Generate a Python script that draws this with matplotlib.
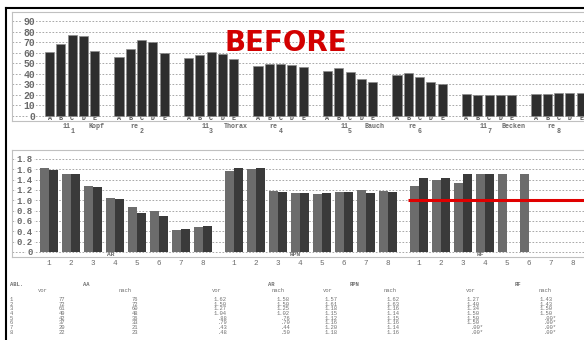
import numpy as np
import matplotlib.pyplot as plt
from matplotlib.transforms import blended_transform_factory
from matplotlib.lines import Line2D

W, H = 584, 340  # output size in px

# --- top chart: 8 regions, bars A-E ---
regions = ['1', '2', '3', '4', '5', '6', '7', '8']
bar_letters = ['A', 'B', 'C', 'D', 'E']
region_names = ['Kopf', 'Thorax', 'Bauch', 'Becken']
top_A = [61, 56, 55, 47, 43, 39, 21, 21]
top_B = [68, 63, 58, 49, 45, 41, 20, 21]
top_C = [77, 72, 61, 49, 42, 37, 20, 22]
top_D = [76, 70, 59, 48, 35, 32, 20, 22]
top_E = [62, 60, 54, 46, 32, 30, 20, 22]
top_ticks = [0, 10, 20, 30, 40, 50, 60, 70, 80, 90]

# --- bottom chart / table ---
abl = [1, 2, 3, 4, 5, 6, 7, 8]
aa_vor = [77, 72, 61, 49, 42, 37, 20, 22]
aa_nach = [76, 72, 60, 48, 36, 33, 21, 23]
ar_vor = [1.62, 1.50, 1.27, 1.04, 0.88, 0.79, 0.43, 0.48]
ar_nach = [1.58, 1.50, 1.25, 1.02, 0.76, 0.70, 0.44, 0.50]
rpn_vor = [1.57, 1.61, 1.18, 1.15, 1.12, 1.16, 1.20, 1.18]
rpn_nach = [1.62, 1.63, 1.16, 1.14, 1.15, 1.16, 1.14, 1.16]
rf_vor = [1.27, 1.40, 1.34, 1.50, 1.50, 1.50, 0.0, 0.0]
rf_nach = [1.43, 1.43, 1.50, 1.50, 0.0, 0.0, 0.0, 0.0]
groups = ['AR', 'RPN', 'RF']
bot_ticks = [0, 0.2, 0.4, 0.6, 0.8, 1.0, 1.2, 1.4, 1.6, 1.8]
bot_ticklabels = ['0', '0.2', '0.4', '0.6', '0.8', '1.0', '1.2', '1.4', '1.6', '1.8']
marker_level = 1.0

gray_txt = '#6a6a6a'
mono = 'Liberation Mono'


def fy(y):
    return 1 - y / H


fig = plt.figure(figsize=(W / 100, H / 100), dpi=100)

# ---------------- top chart ----------------
ax1 = fig.add_axes([12 / W, fy(121), 572 / W, 109 / H])
step1 = 6.15
for k, vals in enumerate([top_A, top_B, top_C, top_D, top_E]):
    x = np.arange(len(regions)) * step1 + k
    ax1.bar(x, vals, width=0.8, color='#2e2e2e', edgecolor='#8c8c8c', linewidth=0.5)
ax1.set_xlim(-3.32, -3.32 + 572 / 11.3)
ax1.set_ylim(-4.74, 98.5)
ax1.set_yticks(top_ticks)
ax1.set_yticklabels([str(t) for t in top_ticks], family=mono, fontweight='bold',
                    fontsize=7, color=gray_txt)
xt = (np.arange(len(regions))[:, None] * step1 + np.arange(5)[None, :]).ravel()
ax1.set_xticks(xt)
ax1.set_xticklabels(bar_letters * len(regions), family=mono, fontweight='bold',
                    fontsize=4.8, color='#555555')
ax1.tick_params(axis='y', length=0, pad=-16.5)
ax1.tick_params(axis='x', length=0, pad=-4.3)
for lbl in ax1.get_yticklabels():
    lbl.set_bbox(dict(facecolor='white', edgecolor='none', pad=0.8))
ax1.yaxis.grid(True, linestyle=(0, (2, 2)), color='#9a9a9a', linewidth=0.6)
ax1.set_axisbelow(True)
for s in ['top', 'left', 'bottom']:
    ax1.spines[s].set_color('#c0c0c0')
    ax1.spines[s].set_linewidth(0.8)
ax1.spines['right'].set_visible(False)

tr1 = blended_transform_factory(ax1.transData, fig.transFigure)
centers = np.arange(len(regions)) * step1 + 2
lab = dict(transform=tr1, ha='center', va='center', family=mono, fontsize=4.8,
           fontweight='bold', color=gray_txt, clip_on=False)
for i, r in enumerate(regions):
    ax1.text(centers[i], fy(132), r, **lab)
for j, name in enumerate(region_names):
    a, b = centers[2 * j], centers[2 * j + 1]
    ax1.text(a - 0.5, fy(126.3), '11', **lab)
    ax1.text((a + b) / 2 - 0.9, fy(126.3), name, **lab)
    ax1.text(b - 0.6, fy(126.3), 're', **lab)

# ---------------- bottom chart ----------------
ax2 = fig.add_axes([12 / W, fy(257), 572 / W, 107 / H])
step2 = 8.41
pairs = np.arange(8)
bw = 0.41
series = [(ar_vor, ar_nach), (rpn_vor, rpn_nach), (rf_vor, rf_nach)]
for g, (v, n) in enumerate(series):
    x = pairs + g * step2
    ax2.bar(x - bw / 2, v, width=bw, color='#6c6c6c', edgecolor='none')
    ax2.bar(x + bw / 2, n, width=bw, color='#3a3a3a', edgecolor='none')
ax2.set_xlim(-1.68, -1.68 + 572 / 22)
ax2.set_ylim(-0.0968, 1.974)
ax2.set_yticks(bot_ticks)
ax2.set_yticklabels(bot_ticklabels, family=mono, fontweight='bold', fontsize=6.5,
                    color=gray_txt)
xt2 = np.concatenate([pairs + g * step2 for g in range(len(groups))])
ax2.set_xticks(xt2)
ax2.set_xticklabels([str(a) for a in abl] * len(groups), family=mono,
                    fontsize=5.5, color=gray_txt)
ax2.tick_params(axis='y', length=0, pad=-15)
ax2.tick_params(axis='x', length=0, pad=2.2)
for lbl in ax2.get_yticklabels():
    lbl.set_bbox(dict(facecolor='white', edgecolor='none', pad=0.8))
ax2.yaxis.grid(True, linestyle=(0, (2, 2)), color='#9a9a9a', linewidth=0.6)
ax2.set_axisbelow(True)
for s in ['top', 'left', 'bottom']:
    ax2.spines[s].set_color('#c0c0c0')
    ax2.spines[s].set_linewidth(0.8)
ax2.spines['right'].set_visible(False)

tr2 = blended_transform_factory(ax2.transData, fig.transFigure)
for g, name in enumerate(groups):
    ax2.text(g * step2 + 2.8, fy(255), name, transform=tr2, ha='center', va='center',
             family=mono, fontsize=4.5, fontweight='bold', color=gray_txt, clip_on=False)

# red reference line
ax2.plot([2 * step2 - 0.5, ax2.get_xlim()[1]], [marker_level, marker_level],
         color='#e00000', linewidth=2.2, solid_capstyle='butt')

# ---------------- table ----------------
def fmt(v):
    if isinstance(v, int):
        return str(v)
    if v == 0:
        return '.00*'
    s = f'{v:.2f}'
    return s[1:] if s.startswith('0') else s


tfs = 4.0
cw = tfs * 100 / 72 * 0.6
kw = dict(family=mono, fontsize=tfs, color='#707070', va='center')
fig.text(10 / W, fy(284), 'ABL.', ha='left', fontweight='bold', **kw)
for name, x in [('AA', 86), ('AR', 271), ('RPN', 355), ('RF', 518)]:
    fig.text(x / W, fy(284), name, ha='center', fontweight='bold', **kw)
for name, x in [('vor', 43), ('nach', 125), ('vor', 217), ('nach', 278),
                ('vor', 328), ('nach', 390), ('vor', 471), ('nach', 545)]:
    fig.text(x / W, fy(290.5), name, ha='center', **kw)

cols = [(aa_vor, 65), (aa_nach, 138), (ar_vor, 227), (ar_nach, 290),
        (rpn_vor, 338), (rpn_nach, 400), (rf_vor, 480), (rf_nach, 553)]
row_y = 299.5 + np.arange(len(abl)) * 4.65
for i, a in enumerate(abl):
    fig.text(10 / W, fy(row_y[i]), str(a), ha='left', **kw)
    for vals, xr in cols:
        s = fmt(vals[i])
        off = cw if s.endswith('*') else 0
        fig.text((xr + off) / W, fy(row_y[i]), s, ha='right', **kw)

# ---------------- overlay ----------------
fig.text(286 / W, fy(43), 'BEFORE', color='#d20000', fontsize=20, fontweight='bold',
         family='DejaVu Sans', ha='center', va='center')
fig.add_artist(Line2D([6 / W, 1], [fy(8), fy(8)], color='black', linewidth=1.5,
                      transform=fig.transFigure))
fig.add_artist(Line2D([6 / W, 6 / W], [0, fy(8)], color='black', linewidth=1.5,
                      transform=fig.transFigure))

fig.savefig('out.png', dpi=100)
